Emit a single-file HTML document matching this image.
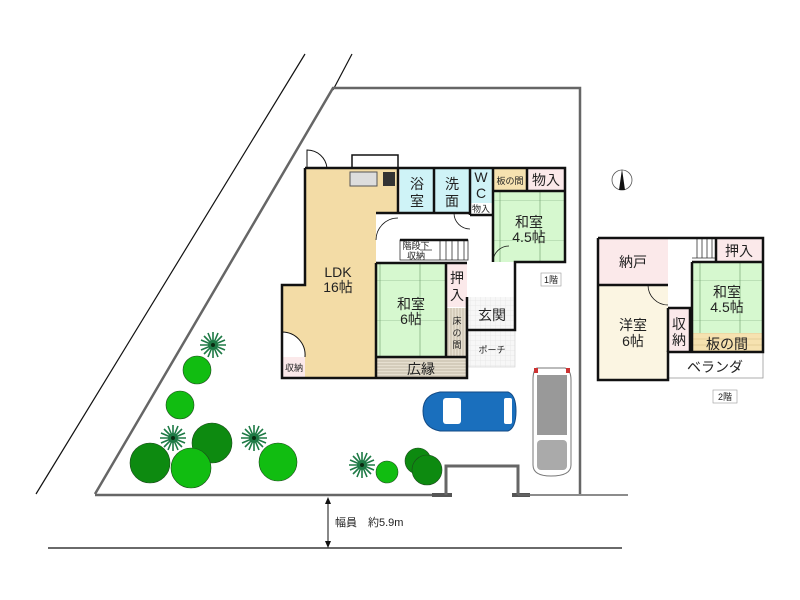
<!DOCTYPE html>
<html><head><meta charset="utf-8"><style>
html,body{margin:0;padding:0;background:#fff;}
svg{display:block;}
text{font-family:"Liberation Sans","Noto Sans CJK JP",sans-serif;fill:#222;}
</style></head><body>
<svg width="800" height="600" viewBox="0 0 800 600" xmlns="http://www.w3.org/2000/svg">
<defs>
<pattern id="tat" width="40" height="40" patternUnits="userSpaceOnUse"><rect width="40" height="40" fill="#d6f8cf"/><path d="M0 0H40M20 0V40" stroke="#6a9a6a" stroke-width="0.6"/></pattern>
<pattern id="str" width="6" height="6" patternUnits="userSpaceOnUse"><rect width="6" height="6" fill="#e6dfd0"/><path d="M0 1H6M0 4H6" stroke="#b8ad98" stroke-width="0.7"/></pattern>
<pattern id="strv" width="6" height="6" patternUnits="userSpaceOnUse"><rect width="6" height="6" fill="#e6dfd0"/><path d="M1 0V6M4 0V6" stroke="#b8ad98" stroke-width="0.7"/></pattern>
<pattern id="ita" width="6" height="6" patternUnits="userSpaceOnUse"><rect width="6" height="6" fill="#f6e2b0"/><path d="M0 3H6" stroke="#d8c08a" stroke-width="0.6"/></pattern>
<pattern id="grid" width="5" height="5" patternUnits="userSpaceOnUse"><rect width="5" height="5" fill="#f7f7f7"/><path d="M0 0H5M0 0V5" stroke="#ddd" stroke-width="0.5"/></pattern>
<g id="palm"><circle r="5" fill="#1e6a3a"/><g stroke="#1e7a45" stroke-width="1.6">
<path d="M-13 0H13M0 -13V13M-9 -9L9 9M-9 9L9 -9M-12 -5L12 5M-12 5L12 -5M-5 -12L5 12M5 -12L-5 12"/></g><circle r="2" fill="#0a2a10"/></g>
</defs>
<line x1="305" y1="54" x2="36" y2="494" stroke="#111" stroke-width="1.2"/>
<line x1="352" y1="54" x2="333" y2="90" stroke="#111" stroke-width="1.2"/>
<polyline points="95,494 333,88 580,88 580,494" fill="none" stroke="#666" stroke-width="2.5"/>
<line x1="95" y1="495" x2="445" y2="495" stroke="#666" stroke-width="2.5"/>
<line x1="432" y1="495" x2="452" y2="495" stroke="#555" stroke-width="4"/>
<line x1="512" y1="495" x2="530" y2="495" stroke="#555" stroke-width="4"/>
<line x1="518" y1="495" x2="628" y2="495" stroke="#666" stroke-width="1.5"/>
<line x1="48" y1="548" x2="622" y2="548" stroke="#111" stroke-width="1.2"/>
<line x1="328" y1="498" x2="328" y2="546" stroke="#111" stroke-width="1"/>
<path d="M325 504L328 497L331 504ZM325 541L328 548L331 541Z" fill="#111"/>
<text x="335" y="526" font-size="11">幅員　約5.9m</text>
<polyline points="446,495 446,466 518,466 518,495" fill="none" stroke="#666" stroke-width="3"/>
<!-- 1F rooms -->
<polygon points="305,168 398,168 398,213 376,213 376,378 282,378 282,285 305,285" fill="#f3dca6"/>
<rect x="352" y="155" width="46" height="13" fill="#fff" stroke="#111" stroke-width="1.5"/>
<rect x="350" y="172" width="27" height="14" fill="#ddd" stroke="#555"/>
<rect x="383" y="172" width="12" height="14" fill="#333"/>
<path d="M307 168V150A20 20 0 0 1 327 168" fill="#fff" stroke="#111"/>
<rect x="400" y="168" width="34" height="45" fill="#cff3f7"/>
<rect x="435" y="168" width="35" height="45" fill="#cff3f7"/>
<rect x="471" y="168" width="21" height="35" fill="#cff3f7"/>
<rect x="494" y="168" width="33" height="23" fill="#f6e2b0"/>
<rect x="528" y="168" width="37" height="23" fill="#fbe9ea"/>
<rect x="494" y="192" width="71" height="70" fill="url(#tat)"/>
<rect x="376" y="263" width="70" height="94" fill="url(#tat)"/>
<rect x="447" y="263" width="20" height="44" fill="#fbe9ea"/>
<rect x="447" y="308" width="20" height="49" fill="url(#strv)"/>
<rect x="376" y="357" width="91" height="21" fill="url(#str)"/>
<rect x="468" y="297" width="47" height="33" fill="url(#grid)"/>
<rect x="468" y="330" width="47" height="37" fill="url(#grid)" stroke="#ccc" stroke-width="0.6"/>
<rect x="282" y="357" width="23" height="21" fill="#fbe9ea"/>
<path d="M282 357V332A23 23 0 0 1 305 357" fill="#fff" stroke="#111"/>
<g stroke="#333" stroke-width="0.8" fill="none">
<rect x="400" y="240" width="68" height="20"/>
<path d="M440 240V260M446 240V260M452 240V260M458 240V260M464 240V260M420 250H432"/>
</g>
<g fill="none" stroke="#111" stroke-width="2.5">
<polyline points="305,168 305,285 282,285 282,378 467,378 467,297"/>
<polyline points="305,168 565,168 565,262 515,262 515,330 468,330"/>
<line x1="376" y1="263" x2="376" y2="378"/>
<line x1="376" y1="263" x2="467" y2="263"/>
<line x1="376" y1="357" x2="467" y2="357"/>
<line x1="446" y1="263" x2="446" y2="357"/>
<line x1="398" y1="168" x2="398" y2="213"/>
<line x1="376" y1="213" x2="470" y2="213"/>
<line x1="434" y1="168" x2="434" y2="213"/>
<line x1="470" y1="168" x2="470" y2="215"/>
<line x1="493" y1="168" x2="493" y2="262"/>
<line x1="470" y1="215" x2="493" y2="215"/>
<line x1="493" y1="191" x2="565" y2="191"/>
<line x1="527" y1="168" x2="527" y2="191"/>
<line x1="400" y1="240" x2="468" y2="240"/>
</g>
<g fill="none" stroke="#111" stroke-width="0.8">
<path d="M376 240A22 22 0 0 1 398 218"/><path d="M454 213A16 16 0 0 0 470 229"/>
<path d="M493 262A16 16 0 0 1 509 246"/>
</g>
<g font-size="14" text-anchor="middle">
<text x="417" y="189">浴</text><text x="417" y="206">室</text>
<text x="452" y="189">洗</text><text x="452" y="206">面</text>
<text x="481" y="182">W</text><text x="481" y="198">C</text>
<text x="546" y="185">物入</text>
<text x="529" y="227">和室</text><text x="529" y="242">4.5帖</text>
<text x="338" y="277">LDK</text><text x="338" y="292">16帖</text>
<text x="411" y="309">和室</text><text x="411" y="324">6帖</text>
<text x="457" y="283">押</text><text x="457" y="300">入</text>
<text x="492" y="320">玄関</text>
<text x="421" y="374">広縁</text>
</g>
<g font-size="9" text-anchor="middle">
<text x="510" y="184">板の間</text>
<text x="481" y="212">物入</text>
<text x="416" y="249">階段下</text><text x="416" y="259">収納</text>
<text x="457" y="324">床</text><text x="457" y="336">の</text><text x="457" y="348">間</text>
<text x="492" y="353">ポーチ</text>
<text x="294" y="371">収納</text>
<text x="551" y="283">1階</text><text x="725" y="400">2階</text>
</g>
<rect x="541" y="273" width="20" height="13" fill="none" stroke="#999" stroke-width="0.6"/>
<rect x="713" y="390" width="24" height="13" fill="none" stroke="#999" stroke-width="0.6"/>
<!-- 2F -->
<rect x="598" y="238" width="70" height="47" fill="#fbe9ea"/>
<rect x="598" y="285" width="70" height="95" fill="#fbf5e2"/>
<rect x="668" y="308" width="22" height="44" fill="#fbe9ea"/>
<rect x="716" y="238" width="47" height="24" fill="#fbe9ea"/>
<rect x="692" y="262" width="71" height="71" fill="url(#tat)"/>
<rect x="692" y="333" width="71" height="19" fill="url(#ita)"/>
<rect x="668" y="352" width="95" height="26" fill="#fff" stroke="#999" stroke-width="0.8"/>
<g stroke="#333" stroke-width="0.8" fill="none"><path d="M692 258H716M697 238V258M702 238V258M707 238V258M712 238V258"/></g>
<path d="M648 285A20 20 0 0 0 668 305" fill="none" stroke="#111" stroke-width="0.8"/>
<g fill="none" stroke="#111" stroke-width="2.5">
<polyline points="598,238 763,238 763,352 668,352 668,380 598,380 598,238"/>
<line x1="598" y1="285" x2="668" y2="285"/>
<line x1="668" y1="308" x2="668" y2="352"/>
<line x1="690" y1="308" x2="690" y2="352"/>
<line x1="668" y1="308" x2="692" y2="308"/>
<line x1="692" y1="262" x2="692" y2="352"/>
<line x1="692" y1="262" x2="763" y2="262"/>
<line x1="716" y1="238" x2="716" y2="262"/>
</g>
<g font-size="14" text-anchor="middle">
<text x="633" y="267">納戸</text>
<text x="633" y="330">洋室</text><text x="633" y="346">6帖</text>
<text x="679" y="329">収</text><text x="679" y="345">納</text>
<text x="739" y="256">押入</text>
<text x="727" y="297">和室</text><text x="727" y="312">4.5帖</text>
<text x="727" y="349">板の間</text>
<text x="715" y="372">ベランダ</text>
</g>
<circle cx="622" cy="180" r="10" fill="#fff" stroke="#555" stroke-width="0.8"/>
<path d="M622 169L619 190H625Z" fill="#111"/>
<g stroke="#1c4a1c" stroke-width="0.6">
<circle cx="150" cy="463" r="20" fill="#0d8a10"/>
<circle cx="212" cy="443" r="20" fill="#0d8a10"/>
<circle cx="191" cy="468" r="20" fill="#11bd11"/>
<circle cx="197" cy="370" r="14" fill="#11bd11"/>
<circle cx="180" cy="405" r="14" fill="#11bd11"/>
<circle cx="278" cy="462" r="19" fill="#11bd11"/>
<circle cx="387" cy="472" r="11" fill="#11bd11"/>
<circle cx="418" cy="461" r="13" fill="#0d8a10"/>
<circle cx="427" cy="470" r="15" fill="#0d8a10"/>
</g>
<use href="#palm" x="213" y="345"/><use href="#palm" x="173" y="438"/>
<use href="#palm" x="254" y="438"/><use href="#palm" x="362" y="465"/>
<path d="M440 392H508Q516 395 516 411Q516 428 508 431H440Q423 428 423 411Q423 395 440 392Z" fill="#1a6fbd" stroke="#124a85"/>
<rect x="443" y="398" width="18" height="26" fill="#fff" rx="3"/>
<rect x="504" y="398" width="8" height="26" fill="#fff" rx="2"/>
<path d="M537 368H565Q571 370 571 380V465Q571 476 551 476Q533 476 533 465V380Q533 370 537 368Z" fill="#fff" stroke="#777"/>
<rect x="537" y="375" width="30" height="60" fill="#999"/>
<rect x="537" y="440" width="30" height="30" fill="#aaa" rx="4"/>
<rect x="534" y="368" width="4" height="5" fill="#c33"/><rect x="566" y="368" width="4" height="5" fill="#c33"/>
</svg>
</body></html>
